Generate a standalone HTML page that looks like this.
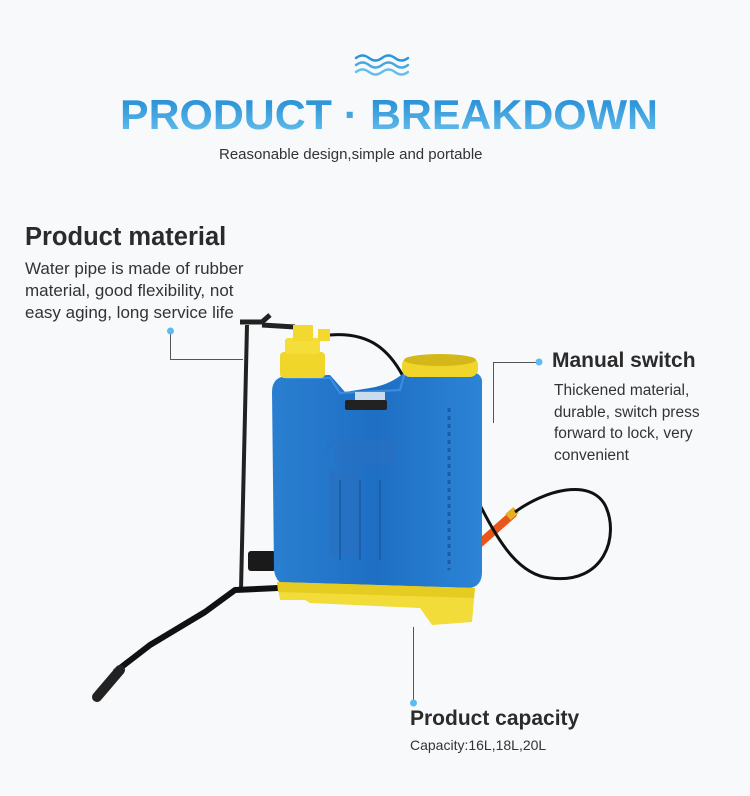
<!DOCTYPE html>
<html><head><meta charset="utf-8"><style>
html,body{margin:0;padding:0}
body{width:750px;height:796px;background:#f8f9fb;position:relative;overflow:hidden;font-family:"Liberation Sans",sans-serif;color:#333}
.t{position:absolute;white-space:nowrap}
</style></head><body>
<svg width="750" height="796" style="position:absolute;left:0;top:0">
<defs>
<linearGradient id="g" x1="0" y1="0" x2="0" y2="1"><stop offset="0" stop-color="#1a86d0"/><stop offset="1" stop-color="#6cc3f0"/></linearGradient>
<linearGradient id="b" x1="0" y1="0" x2="1" y2="0"><stop offset="0" stop-color="#2a7fd0"/><stop offset="0.5" stop-color="#1e6fc4"/><stop offset="1" stop-color="#2c84d6"/></linearGradient>
</defs>
<g fill="none" stroke="#2a95da" stroke-width="2.4" stroke-linecap="round">
<path d="M356 58 q6.5 -5 13 0 t13 0 t13 0 t13 0"/>
<path d="M356 65 q6.5 -5 13 0 t13 0 t13 0 t13 0" stroke="#45a8e2"/>
<path d="M356 72 q6.5 -5 13 0 t13 0 t13 0 t13 0" stroke="#66bdec"/>
</g>
<text x="389" y="129" text-anchor="middle" font-family="Liberation Sans" font-weight="bold" font-size="42" fill="url(#g)" textLength="538" lengthAdjust="spacingAndGlyphs">PRODUCT   · BREAKDOWN</text>
<g stroke="#555" stroke-width="1" fill="none">
<path d="M170.5 331 V359.5 H243"/>
<path d="M539 362.5 H493.5 V423"/>
<path d="M413.5 627 V703"/>
</g>
<g fill="#5cbcf2"><circle cx="170.5" cy="331" r="3.5"/><circle cx="539" cy="362" r="3.5"/><circle cx="413.5" cy="703" r="3.5"/></g>
<path d="M478 545 L513 514" stroke="#e8561c" stroke-width="8" stroke-linecap="round"/>
<path d="M508 517 l8 -7" stroke="#e8b020" stroke-width="8"/>
<path d="M480 505 C500 545 520 575 550 578 C605 585 620 535 605 505 C590 478 545 490 515 512" stroke="#111" stroke-width="3" fill="none"/>
<path d="M247 325 L241 590" stroke="#222" stroke-width="4" fill="none"/>
<path d="M240 322 L262 322 L270 315" stroke="#222" stroke-width="5" fill="none"/>
<path d="M262 325 L295 327" stroke="#222" stroke-width="5"/>
<path d="M278 588 L235 590 L205 612 L150 645 L115 672" stroke="#111" stroke-width="6" fill="none" stroke-linejoin="round"/>
<path d="M120 670 L97 697" stroke="#222" stroke-width="10" stroke-linecap="round"/>
<rect x="248" y="551" width="28" height="20" rx="3" fill="#1a1a1a"/>
<path d="M330 335 C370 332 390 350 405 380" stroke="#111" stroke-width="3" fill="none"/>
<path d="M285 376 Q272 378 272 392 L274 570 Q276 585 290 586 L470 588 Q482 586 482 572 L482 380 Q480 372 470 372 L405 372 Q390 385 370 388 L345 392 L330 375 Z" fill="url(#b)"/>
<path d="M285 378 L330 378 L340 393 L400 390 L405 372" fill="none" stroke="#3b8ee0" stroke-width="2"/>
<rect x="345" y="400" width="42" height="10" rx="2" fill="#222"/>
<rect x="355" y="392" width="30" height="8" fill="#c9dcef"/>
<path d="M335 440 h60 v25 h-60 z M325 452 a12 12 0 0 1 12 -12 M330 470 h30 v85 h-30z" fill="#2a6fc0" opacity="0.6"/>
<line x1="340" y1="480" x2="340" y2="560" stroke="#1a5fae" stroke-width="2"/>
<line x1="360" y1="480" x2="360" y2="560" stroke="#1a5fae" stroke-width="2"/>
<line x1="380" y1="480" x2="380" y2="560" stroke="#1a5fae" stroke-width="2"/>
<line x1="449" y1="408" x2="449" y2="570" stroke="#1b5ba8" stroke-width="3" stroke-dasharray="4 4"/>
<path d="M277 582 L475 588 L472 622 L432 625 L420 608 L310 603 L305 600 L280 600 Z" fill="#f2dc3a"/>
<path d="M277 582 L475 588 L474 598 L278 592 Z" fill="#e6cc20"/>
<rect x="280" y="352" width="45" height="26" rx="4" fill="#f0d52a"/>
<rect x="285" y="338" width="35" height="16" rx="3" fill="#f5dd3a"/>
<rect x="293" y="325" width="20" height="16" fill="#f3d830"/>
<rect x="318" y="329" width="12" height="12" fill="#f3d830"/>
<rect x="402" y="357" width="76" height="20" rx="8" fill="#f0d52a"/>
<ellipse cx="440" cy="360" rx="36" ry="6" fill="#d4b81a"/>
</svg>
<div class="t" style="left:219px;top:146px;font-size:15px;color:#333">Reasonable design,simple and portable</div>
<div class="t" style="left:25px;top:223px;font-size:25.5px;font-weight:bold;color:#2b2b2b">Product material</div>
<div class="t" style="left:25px;top:258px;font-size:17px;line-height:22px;color:#333">Water pipe is made of rubber<br>material, good flexibility, not<br>easy aging, long service life</div>
<div class="t" style="left:552px;top:349px;font-size:21px;font-weight:bold;color:#2b2b2b">Manual switch</div>
<div class="t" style="left:554px;top:380px;font-size:15.5px;line-height:21.5px;color:#333">Thickened material,<br>durable, switch press<br>forward to lock, very<br>convenient</div>
<div class="t" style="left:410px;top:707px;font-size:21px;font-weight:bold;color:#2b2b2b">Product capacity</div>
<div class="t" style="left:410px;top:737px;font-size:14px;color:#333">Capacity:16L,18L,20L</div>
</body></html>
